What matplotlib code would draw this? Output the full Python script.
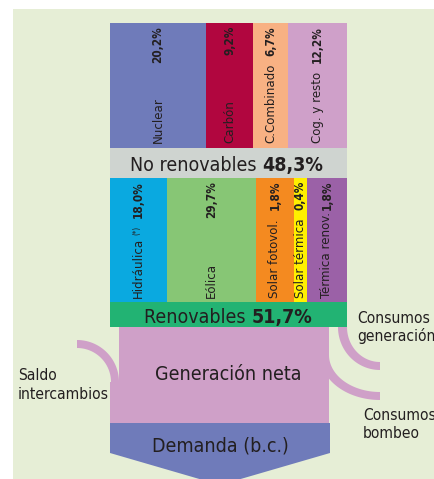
import numpy as np
import matplotlib
matplotlib.use("Agg")
import matplotlib.pyplot as plt
import matplotlib.font_manager as fm
from matplotlib.patches import Rectangle, Polygon

# fuente estrecha si la hay
names = {f.name for f in fm.fontManager.ttflist}
fnames = [f.fname for f in fm.fontManager.ttflist]
if 'Liberation Sans Narrow' in names:
    plt.rcParams['font.family'] = ['Liberation Sans Narrow', 'DejaVu Sans']
elif any('DejaVuSansCondensed' in f for f in fnames):
    plt.rcParams['font.family'] = ['DejaVu Sans']
    plt.rcParams['font.stretch'] = 'condensed'
elif 'Roboto Condensed' in names:
    plt.rcParams['font.family'] = ['Roboto Condensed', 'DejaVu Sans']
else:
    plt.rcParams['font.family'] = ['Roboto', 'DejaVu Sans']

# --- datos ---
no_renov_labels = ['Nuclear', 'Carbón', 'C.Combinado', 'Cog. y resto']
no_renov_values = [20.2, 9.2, 6.7, 12.2]
no_renov_colors = ['#6f7bba', '#b1063f', '#f8b183', '#cfa0c9']

renov_labels = ['Hidráulica', 'Eólica', 'Solar fotovol.', 'Solar térmica', 'Térmica renov.']
renov_values = [18.0, 29.7, 1.8, 0.4, 1.8]
renov_colors = ['#0aa9e0', '#87c675', '#f48a20', '#fff000', '#9b61a7']

# bordes de columnas (maqueta, px)
no_renov_edges = [110, 206, 253, 288, 347]
renov_edges = [110, 167, 256, 294, 307, 347]

TXT = '#231f20'
BG = '#e6eed6'
PINK = '#cfa0c8'
BLUE = '#6f7bba'


def fmt(v):
    return f"{v:.1f}".replace('.', ',') + '%'


fig = plt.figure(figsize=(4.34, 4.79), dpi=100)
ax = fig.add_axes([0, 0, 1, 1])
ax.set_xlim(0, 434)
ax.set_ylim(479, 0)
ax.axis('off')
R = fig.canvas.get_renderer()


def text_w(s, size, weight='normal'):
    t = ax.text(0, 0, s, fontsize=size, fontweight=weight)
    w = t.get_window_extent(R).width
    t.remove()
    return w


def fit(s, target, weight='normal'):
    # tamaño de letra para que el texto mida lo mismo que en la imagen
    return 10 * target / text_w(s, 10, weight)


def two_part(xc, yb, normal, bold, size):
    t1 = ax.text(0, yb, normal, fontsize=size, color=TXT, ha='left', va='baseline')
    t2 = ax.text(0, yb, bold, fontsize=size, color=TXT, ha='left', va='baseline', fontweight='bold')
    w1 = t1.get_window_extent(R).width
    w2 = t2.get_window_extent(R).width
    x0 = xc - (w1 + w2) / 2
    t1.set_x(x0)
    t2.set_x(x0 + w1)


def arc_band(cx, cy, rxo, ryo, rxi, ryi, a0, a1, color):
    t = np.radians(np.linspace(a0, a1, 60))
    outer = np.c_[cx + rxo * np.cos(t), cy - ryo * np.sin(t)]
    inner = np.c_[cx + rxi * np.cos(t[::-1]), cy - ryi * np.sin(t[::-1])]
    ax.add_patch(Polygon(np.vstack([outer, inner]), closed=True, fc=color, ec='none'))


lab_size = fit('C.Combinado', 79)
val_size = fit('20,2%', 37, 'bold')
w_n = text_w('No renovables ', 10) + text_w('48,3%', 10, 'bold')
band_size = 10 * 193 / w_n
side_size = fit('intercambios', 91)

ax.add_patch(Rectangle((13, 9), 421, 470, fc=BG, ec='none'))

# --- no renovables ---
left = no_renov_edges[:-1]
widths = np.diff(no_renov_edges)
ax.bar(left, 125, width=widths, bottom=23, align='edge', color=no_renov_colors, linewidth=0)
for x, w, lab, v in zip(left, widths, no_renov_labels, no_renov_values):
    xc = x + w / 2
    ax.text(xc, 143, lab, rotation=90, ha='center', va='bottom', fontsize=lab_size, color=TXT)
    ax.text(xc, 26, fmt(v), rotation=90, ha='center', va='top', fontsize=val_size,
            fontweight='bold', color=TXT)

ax.add_patch(Rectangle((110, 148), 237, 30, fc='#cfd4d0', ec='none'))

# --- renovables ---
left = renov_edges[:-1]
widths = np.diff(renov_edges)
ax.bar(left, 124, width=widths, bottom=178, align='edge', color=renov_colors, linewidth=0)
for i, (x, w, lab, v) in enumerate(zip(left, widths, renov_labels, renov_values)):
    xc = x + w / 2
    t = ax.text(xc, 298, lab, rotation=90, ha='center', va='bottom', fontsize=lab_size, color=TXT)
    ax.text(xc, 181, fmt(v), rotation=90, ha='center', va='top', fontsize=val_size,
            fontweight='bold', color=TXT)
    if i == 0:
        ax.annotate('(*)', xy=(0, 1), xycoords=t, xytext=(0, 2), textcoords='offset points',
                    rotation=90, ha='left', va='bottom', fontsize=lab_size * 0.6, color=TXT)

ax.add_patch(Rectangle((110, 302), 237, 25, fc='#22b373', ec='none'))

# --- flujos ---
arc_band(77, 382, 42, 42, 34, 34, 90, 0, PINK)          # saldo intercambios
ax.add_patch(Rectangle((110, 382), 9, 41, fc=PINK, ec='none'))
arc_band(380, 327, 42, 43, 33, 35, 180, 270, PINK)      # consumos generacion
arc_band(380, 355, 60, 45, 51, 37, 180, 270, PINK)      # consumos bombeo
ax.add_patch(Rectangle((119, 327), 210, 96, fc=PINK, ec='none'))

ax.add_patch(Polygon([(110, 423), (330, 423), (330, 453), (220, 485), (110, 453)],
                     closed=True, fc=BLUE, ec='none'))

# --- textos ---
two_part(227, 171, 'No renovables ', fmt(sum(no_renov_values)), band_size)
two_part(228, 323, 'Renovables ', fmt(sum(renov_values)), band_size)
ax.text(228, 380, 'Generación neta', ha='center', va='baseline', fontsize=band_size, color=TXT)
ax.text(220, 451, 'Demanda (b.c.)', ha='center', va='baseline', fontsize=band_size, color=TXT)

side = dict(fontsize=side_size, color=TXT, ha='left', va='baseline')
ax.text(18, 380, 'Saldo', **side)
ax.text(18, 399, 'intercambios', **side)
ax.text(357, 323, 'Consumos', **side)
ax.text(357, 341, 'generación', **side)
ax.text(363, 420, 'Consumos', **side)
ax.text(363, 438, 'bombeo', **side)

fig.savefig('out.png', dpi=100, facecolor='white')
